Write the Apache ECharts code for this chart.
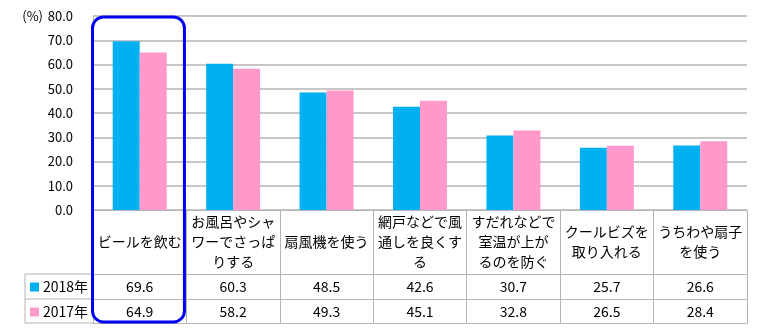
<!DOCTYPE html>
<html>
<head>
<meta charset="utf-8">
<script src="https://cdn.jsdelivr.net/npm/echarts@6/dist/echarts.min.js"></script>
<style>
  html, body { margin: 0; padding: 0; background: #fff; }
  #chart { width: 764px; height: 331px; }
</style>
</head>
<body>
<div id="chart"></div>
<script>
// Cooling habits, share of respondents (%), 2018 vs 2017
const categories = [
  'ビールを飲む',
  'お風呂やシャ\nワーでさっぱ\nりする',
  '扇風機を使う',
  '網戸などで風\n通しを良くす\nる',
  'すだれなどで\n室温が上が\nるのを防ぐ',
  'クールビズを\n取り入れる',
  'うちわや扇子\nを使う'
];
const seriesNames = ['2018年', '2017年'];
const values2018 = [69.6, 60.3, 48.5, 42.6, 30.7, 25.7, 26.6];
const values2017 = [64.9, 58.2, 49.3, 45.1, 32.8, 26.5, 28.4];
const yMin = 0, yMax = 80, yStep = 10;
const unitLabel = '(%)';

const FONT = '"Noto Sans CJK JP", "Noto Sans", sans-serif';
const LINE = '#b4b4b4';
const BLUE = '#00b0f0';
const PINK = '#ff99cc';

// layout of the plot and the data table underneath it
const gridLeft = 93, gridRight = 17, gridTop = 16, gridBottom = 121;
const rowName = 64, rowVal = 25, rowVal2 = 24;
const tableH = rowName + rowVal + rowVal2;

const chart = echarts.init(document.getElementById('chart'), null, { renderer: 'canvas' });

const baseY = 331 - gridBottom;
const rowTop = baseY + rowName;
const legendLeft = 25;

function tableAxis(offset, formatter) {
  return {
    type: 'category', gridIndex: 0, position: 'bottom', offset: offset,
    data: categories,
    axisLine: { show: true, lineStyle: { color: LINE, width: 1 } },
    axisTick: { show: false },
    splitLine: { show: false },
    axisLabel: formatter ? {
      interval: 0, margin: 13, verticalAlign: 'middle',
      fontFamily: FONT, fontSize: 14, color: '#000',
      formatter: formatter
    } : { show: false }
  };
}

chart.setOption({
  animation: false,
  textStyle: { fontFamily: FONT },
  grid: { left: gridLeft, right: gridRight, top: gridTop, bottom: gridBottom, containLabel: false },
  legend: {
    orient: 'vertical', left: legendLeft + 5, top: rowTop + 5, padding: 0,
    itemWidth: 9, itemHeight: 9, itemGap: 9,
    icon: 'rect',
    textStyle: { fontFamily: FONT, fontSize: 14, color: '#000', lineHeight: 16, padding: [0, 0, 0, -1] },
    data: seriesNames
  },
  xAxis: [
    {
      type: 'category', gridIndex: 0, position: 'bottom',
      data: categories,
      axisLine: { show: true, lineStyle: { color: LINE, width: 1 } },
      axisTick: { show: true, length: tableH, alignWithLabel: false, lineStyle: { color: LINE, width: 1 } },
      axisLabel: {
        interval: 0, margin: rowName / 2, verticalAlign: 'middle', align: 'center',
        lineHeight: 20, fontFamily: FONT, fontSize: 14, color: '#000'
      },
      splitLine: { show: false }
    },
    tableAxis(rowName, (v, i) => values2018[i].toFixed(1)),
    tableAxis(rowName + rowVal, (v, i) => values2017[i].toFixed(1)),
    tableAxis(tableH, null)
  ],
  yAxis: {
    type: 'value', min: yMin, max: yMax, interval: yStep,
    axisLine: { show: true, lineStyle: { color: LINE, width: 1 } },
    axisTick: { show: false },
    axisLabel: { fontFamily: FONT, fontSize: 13, color: '#000', margin: 20, formatter: v => v.toFixed(1) },
    splitLine: { show: true, lineStyle: { color: LINE, width: 1.5 } }
  },
  series: [
    { name: seriesNames[0], type: 'bar', xAxisIndex: 0, data: values2018, barWidth: 27, barGap: '0%', itemStyle: { color: BLUE } },
    { name: seriesNames[1], type: 'bar', xAxisIndex: 0, data: values2017, barWidth: 27, barGap: '0%', itemStyle: { color: PINK } }
  ]
});

// Legend cell borders left of the value rows, unit label and the highlight frame
const band = (764 - gridLeft - gridRight) / categories.length;
const c0 = chart.convertToPixel({ xAxisIndex: 0 }, categories[0]);
const yTop = chart.convertToPixel({ yAxisIndex: 0 }, yMax);
const border = { stroke: LINE, lineWidth: 1 };
chart.setOption({
  graphic: [
    { type: 'line', shape: { x1: legendLeft, y1: rowTop, x2: gridLeft, y2: rowTop }, style: border, silent: true },
    { type: 'line', shape: { x1: legendLeft, y1: rowTop + rowVal, x2: gridLeft, y2: rowTop + rowVal }, style: border, silent: true },
    { type: 'line', shape: { x1: legendLeft, y1: baseY + tableH, x2: gridLeft, y2: baseY + tableH }, style: border, silent: true },
    { type: 'line', shape: { x1: legendLeft, y1: rowTop, x2: legendLeft, y2: baseY + tableH }, style: border, silent: true },
    {
      type: 'text', silent: true, x: 43, y: yTop,
      style: { text: unitLabel, font: '13px ' + FONT, fill: '#000', align: 'right', verticalAlign: 'middle' }
    },
    {
      type: 'rect', z: 100, silent: true,
      shape: { x: c0 - band / 2 - 0.5, y: yTop + 1, width: band - 1.5, height: baseY + tableH - yTop - 2, r: 11 },
      style: { fill: 'none', stroke: '#0000f5', lineWidth: 3 }
    }
  ]
});
</script>
</body>
</html>
